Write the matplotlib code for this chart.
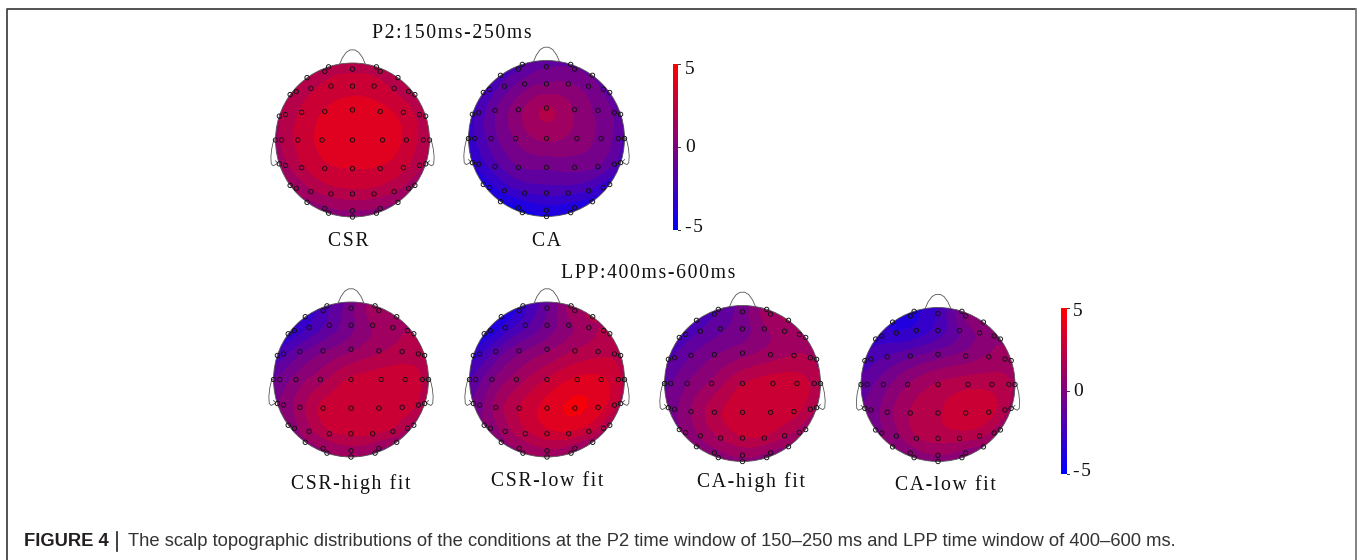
import numpy as np
import matplotlib
matplotlib.use("Agg")
import matplotlib.pyplot as plt
from matplotlib.colors import LinearSegmentedColormap
from matplotlib.patches import Circle

# electrode layout in head units (radius 1), row by row from the nose down
rowX = [[-.59, -.36, -.31, 0, .31, .36, .59],
        [-.81, -.73, -.54, -.28, 0, .28, .54, .73, .81],
        [-.95, -.87, -.66, -.36, 0, .36, .66, .87, .95],
        [-1, -.92, -.71, -.395, 0, .39, .70, .92, 1],
        [-.95, -.87, -.66, -.36, 0, .36, .66, .87, .95],
        [-.81, -.73, -.54, -.28, 0, .28, .54, .73, .81],
        [-.59, -.36, -.31, 0, 0, .31, .36, .59]]
rowY = [[.81, .89, .95, .92, .95, .89, .81],
        [.59, .63, .67, .70, .70, .70, .67, .63, .59],
        [.31, .33, .36, .37, .39, .37, .36, .33, .31],
        [0, 0, 0, 0, 0, 0, 0, 0, 0],
        [-.31, -.33, -.36, -.37, -.37, -.37, -.36, -.33, -.31],
        [-.59, -.63, -.67, -.70, -.70, -.70, -.67, -.63, -.59],
        [-.81, -.89, -.95, -.92, -1, -.95, -.89, -.81]]

# microvolts at each electrode
csr = [[1.9, 2.1, 2.1, 2.3, 2.1, 2.1, 1.9],
       [1.6, 1.9, 2.3, 2.7, 2.9, 2.8, 2.3, 1.9, 1.7],
       [1.5, 1.9, 2.6, 3.4, 3.8, 3.6, 3.0, 2.2, 1.8],
       [1.3, 1.8, 2.7, 3.5, 3.9, 3.8, 3.1, 2.1, 1.7],
       [1.1, 1.5, 2.4, 3.1, 3.3, 3.2, 2.7, 1.9, 1.4],
       [.7, 1.0, 1.5, 2.0, 2.2, 2.1, 1.8, 1.3, 1.0],
       [.6, .5, .5, .7, .5, .5, .6, .7]]
ca = [[-2.2, -1.9, -1.8, -.9, -1.0, -.9, -1.0],
      [-2.6, -2.3, -1.4, -.5, -.1, 0, -.4, -1.0, -1.3],
      [-2.7, -2.3, -.9, .5, 1.9, .7, -.3, -.9, -1.3],
      [-3.0, -2.6, -1.3, 0, 1.0, .4, -.3, -1.2, -2.0],
      [-3.5, -3.0, -2.0, -.9, -.8, -.6, -.8, -1.6, -2.2],
      [-3.9, -3.7, -3.1, -2.5, -2.3, -2.3, -2.5, -3.0, -3.3],
      [-4.3, -4.4, -4.4, -3.7, -4.4, -4.2, -4.0, -3.8]]
csrHigh = [[-3.0, -2.2, -1.8, -.3, 1.4, 1.5, 1.7],
           [-3.2, -3.1, -2.5, -1.5, -.3, .8, 1.3, 1.6, 1.7],
           [-2.2, -2.0, -1.0, -.1, .6, 1.5, 1.9, 1.9, 1.8],
           [-.9, -.6, .3, 1.2, 2.7, 3.0, 3.0, 2.6, 1.7],
           [-.1, .3, 1.3, 2.8, 3.0, 3.1, 3.0, 2.5, 1.6],
           [.3, .6, 1.4, 2.4, 2.7, 2.7, 2.4, 1.5, 1.2],
           [.6, .7, .7, 1.2, .8, .7, .6, .8]]
csrLow = [[-4.2, -3.3, -2.8, -1.0, 1.2, 1.5, 1.9],
          [-4.2, -4.0, -3.0, -2.0, -.6, .4, 1.2, 1.7, 1.8],
          [-3.0, -2.7, -1.5, -.2, .6, 1.7, 2.1, 2.2, 2.1],
          [-1.8, -1.3, -.1, 1.1, 2.5, 3.5, 3.4, 2.8, 2.0],
          [-.8, -.3, 1.2, 2.5, 3.6, 4.3, 3.7, 2.7, 1.9],
          [0, .3, 1.3, 2.3, 3.0, 3.2, 2.7, 1.9, 1.4],
          [.5, .8, .8, 1.4, 1.0, .9, .8, .9]]
caHigh = [[-2.2, -1.8, -1.6, -.4, 1.2, 1.6, 1.8],
          [-2.2, -2.1, -1.7, -1.0, -.5, .5, 1.2, 1.5, 1.5],
          [-1.8, -1.6, -.8, -.1, .5, 1.2, 1.6, 1.6, 1.5],
          [-1.1, -.9, 0, .9, 2.5, 3.0, 2.9, 2.3, 1.5],
          [-.5, -.2, .9, 2.2, 3.0, 3.0, 2.8, 2.0, 1.4],
          [-.1, .2, 1.0, 1.7, 2.5, 2.5, 1.8, 1.2, 1.0],
          [.3, .5, .5, .9, .6, .5, .4, .6]]
caLow = [[-3.4, -3.8, -3.5, -2.4, -.3, .2, .8],
         [-2.8, -2.9, -3.4, -3.1, -2.3, -1.0, 0, .6, .8],
         [-2.2, -2.0, -1.6, -1.0, -.4, .3, .9, 1.1, 1.1],
         [-1.3, -1.1, -.4, .8, 1.8, 2.2, 2.1, 1.9, 1.4],
         [-.8, -.5, .5, 1.7, 2.3, 3.1, 2.9, 1.9, 1.3],
         [-.3, 0, .6, 1.7, 2.0, 2.0, 1.9, 1.4, .9],
         [.1, .3, .3, .8, .4, .4, .3, .5]]

headValues = [csr, ca, csrHigh, csrLow, caHigh, caLow]
headNames = ["CSR", "CA", "CSR-high fit", "CSR-low fit", "CA-high fit", "CA-low fit"]
headX = [352.5, 546.5, 351, 547, 742.5, 938]
headY = [140, 138.5, 379.5, 379.5, 383.5, 384.5]
headR = [77, 78, 77.5, 77.5, 78, 77]
nameX = [348.5, 547, 350.5, 547.5, 751, 945]
nameY = [241, 241, 484, 482, 482, 485]

titles = ["P2:150ms-250ms", "LPP:400ms-600ms"]
titleX = [452, 648]
titleY = [33, 274]

barTicks = [5, 0, -5]
tickLabels = ["5", "0", "-5"]

caption = ("The scalp topographic distributions of the conditions at the P2 time window "
           "of 150\u2013250 ms and LPP time window of 400\u2013600 ms.")

serif = "Liberation Serif"
bwr = LinearSegmentedColormap.from_list("bwr2", ["#0000ff", "#ff0000"])
levels = np.linspace(-5, 5, 13)


def spaced(s):
    # the labels are letter spaced in the original
    return "\u200a".join(s)


def biharmonic(ex, ey, ev, gx, gy):
    # griddata v4 style spline, what EEG toolboxes use for scalp maps
    d = np.hypot(ex[:, None] - ex[None, :], ey[:, None] - ey[None, :])
    np.fill_diagonal(d, 1)
    g = d**2 * (np.log(d) - 1)
    # small diagonal term so neighbours that disagree dont make ripples
    np.fill_diagonal(g, 0.02)
    w = np.linalg.lstsq(g, ev, rcond=1e-6)[0]
    r = np.hypot(gx[..., None] - ex, gy[..., None] - ey)
    r[r == 0] = 1e-9
    return (r**2 * (np.log(r) - 1) * w).sum(axis=-1)


def drawHead(ax, cx, cy, r, vals):
    ex = np.concatenate(rowX).astype(float)
    ey = np.concatenate(rowY).astype(float)
    ev = np.concatenate(vals).astype(float)
    gx, gy = np.meshgrid(np.linspace(-1.01, 1.01, 260), np.linspace(-1.01, 1.01, 260))
    gz = np.clip(biharmonic(ex, ey, ev, gx, gy), -4.99, 4.99)
    cs = ax.contourf(cx + r * gx, cy - r * gy, gz, levels=levels, cmap=bwr, zorder=2)
    cs.set_clip_path(Circle((cx, cy), r, transform=ax.transData))
    ax.add_patch(Circle((cx, cy), r, fill=False, ec="#555555", lw=0.6, zorder=3))
    # nose
    noseX = np.array([-.165, -.13, -.08, -.03, .03, .08, .13, .165])
    noseY = np.array([.99, 1.07, 1.14, 1.17, 1.17, 1.14, 1.07, .99])
    ax.plot(cx + r * noseX, cy - r * noseY, color="#555555", lw=0.6, zorder=3)
    # ears
    earX = np.array([1.0, 1.03, 1.05, 1.06, 1.055, 1.03, 1.0, .97, 1.0])
    earY = np.array([.02, -.03, -.12, -.22, -.31, -.335, -.32, -.30, -.27])
    for side in (-1, 1):
        ax.plot(cx + side * r * earX, cy - r * earY, color="#555555", lw=0.6, zorder=1)
    ax.scatter(cx + r * ex, cy - r * ey, s=10, facecolors="none", edgecolors="#111111",
               linewidths=0.65, zorder=4)


def drawBar(ax, x0, x1, yTop, yBottom, labelX, labelY):
    grad = np.linspace(1, 0, 256).reshape(-1, 1)
    ax.imshow(grad, cmap=bwr, extent=(x0, x1, yBottom, yTop), aspect="auto", zorder=2)
    for t, lab, ly in zip(barTicks, tickLabels, labelY):
        y = yTop + (5 - t) / 10 * (yBottom - yTop)
        ax.plot([x1, x1 + 2], [y, y], color="#333333", lw=0.7)
        ax.text(labelX, ly, spaced(lab), family=serif, fontsize=14, color="#111111",
                ha="left", va="center")


fig = plt.figure(figsize=(13.57, 5.6), dpi=100)
ax = fig.add_axes([0, 0, 1, 1])

for i in range(len(headValues)):
    drawHead(ax, headX[i], headY[i], headR[i], headValues[i])
    ax.text(nameX[i], nameY[i], spaced(headNames[i]), family=serif, fontsize=14.2,
            color="#111111", ha="center", va="center")

for i in range(len(titles)):
    ax.text(titleX[i], titleY[i], spaced(titles[i]), family=serif, fontsize=14.2,
            color="#111111", ha="center", va="center")

drawBar(ax, 673, 678, 64, 230, 685, [69, 147, 228])
drawBar(ax, 1061, 1066.5, 308, 474, 1073, [311.5, 391, 472])

# page frame, open at the bottom
ax.plot([7, 7, 1355], [560, 8.5, 8.5], color="#444444", lw=1.3, zorder=1)
ax.plot([1355.5, 1355.5], [8.5, 560], color="#777777", lw=1.3, zorder=1)

ax.text(24.5, 541.5, "FIGURE 4", family="Liberation Sans", weight="bold", fontsize=13.2,
        color="#231f20", ha="left", va="center")
ax.plot([117, 117], [532, 551], color="#231f20", lw=1.2)
ax.text(128.5, 541.5, caption, family="Liberation Sans", fontsize=13.2, color="#333333",
        ha="left", va="center")

ax.set_xlim(0, 1357)
ax.set_ylim(560, 0)
ax.axis("off")
fig.savefig("out.png", dpi=100)
